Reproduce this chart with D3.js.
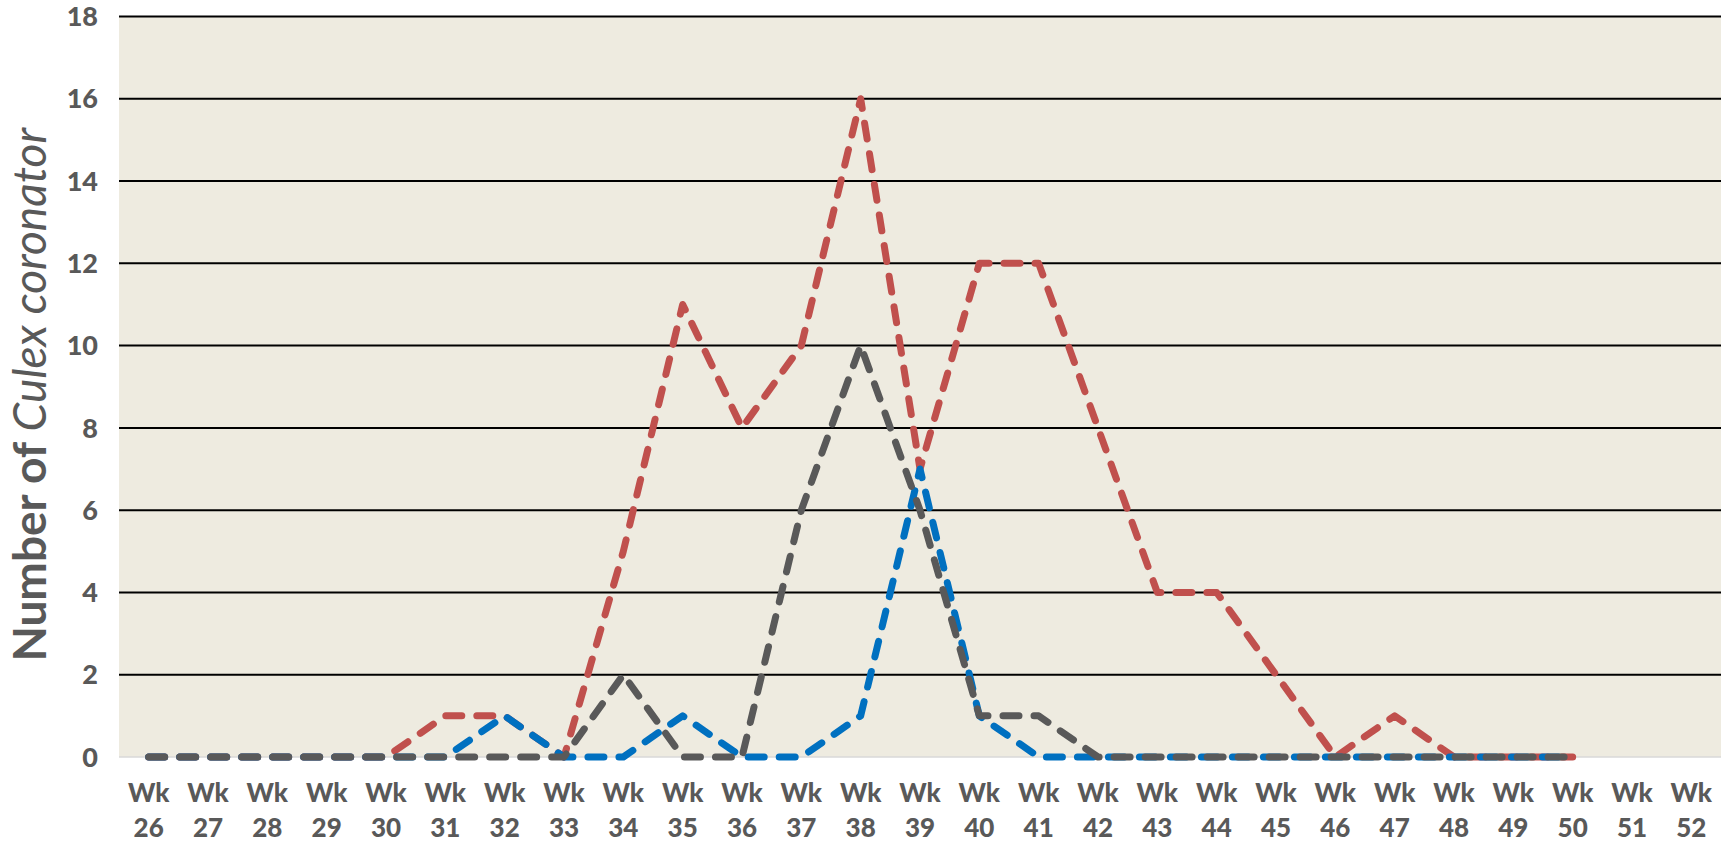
<!DOCTYPE html>
<html>
<head>
<meta charset="utf-8">
<script src="https://cdn.jsdelivr.net/npm/d3@7"></script>
<style>
  body { margin: 0; background: #fff; }
  svg { display: block; }
</style>
</head>
<body>
<div id="chart"></div>
<script>
// weeks on the x axis (Wk 51 and 52 have no counts)
const weeks = ["26","27","28","29","30","31","32","33","34","35","36","37","38","39",
               "40","41","42","43","44","45","46","47","48","49","50","51","52"];

// counts per week, one array per series
const redSeries  = [0,0,0,0,0,1,1,0,5,11,8,10,16,7,12,12,8,4,4,2,0,1,0,0,0,null,null];
const blueSeries = [0,0,0,0,0,0,1,0,0,1,0,0,1,7,1,0,0,0,0,0,0,0,0,0,0,null,null];
const graySeries = [0,0,0,0,0,0,0,0,2,0,0,6,10,6,1,1,0,0,0,0,0,0,0,0,0,null,null];

const yTicks = [0,2,4,6,8,10,12,14,16,18];

const width = 1729, height = 847;
const plot = { left: 119, right: 1721, top: 16.5, bottom: 757 };

const svg = d3.select("#chart").append("svg")
  .attr("width", width)
  .attr("height", height);

const x = d3.scalePoint()
  .domain(weeks)
  .range([plot.left, plot.right])
  .padding(0.5);

const y = d3.scaleLinear()
  .domain([0, 18])
  .range([plot.bottom, plot.top]);

// plot background
svg.append("rect")
  .attr("x", plot.left)
  .attr("y", plot.top)
  .attr("width", plot.right - plot.left)
  .attr("height", plot.bottom - plot.top)
  .attr("fill", "#eeebe0");

// gridlines
svg.append("g")
  .selectAll("line")
  .data(yTicks.filter(d => d > 0))
  .join("line")
  .attr("x1", plot.left)
  .attr("x2", plot.right)
  .attr("y1", d => y(d))
  .attr("y2", d => y(d))
  .attr("stroke", "#000")
  .attr("stroke-width", 2);

// baseline
svg.append("line")
  .attr("x1", plot.left)
  .attr("x2", plot.right)
  .attr("y1", y(0))
  .attr("y2", y(0))
  .attr("stroke", "#d9d9d9")
  .attr("stroke-width", 1.5);

// y tick labels
svg.append("g")
  .selectAll("text")
  .data(yTicks)
  .join("text")
  .attr("x", 98)
  .attr("y", d => y(d))
  .attr("dy", "0.36em")
  .attr("text-anchor", "end")
  .style("font-family", "Lato, 'Open Sans', sans-serif")
  .style("font-weight", "900")
  .style("font-size", "27px")
  .attr("fill", "#595959")
  .text(d => d);

// x tick labels, two lines each
const xl = svg.append("g")
  .selectAll("text")
  .data(weeks)
  .join("text")
  .attr("text-anchor", "middle")
  .style("font-family", "Lato, 'Open Sans', sans-serif")
  .style("font-weight", "900")
  .style("font-size", "26px")
  .attr("fill", "#595959");
xl.append("tspan").attr("x", d => x(d)).attr("y", 802).text("Wk");
xl.append("tspan").attr("x", d => x(d)).attr("y", 837).text(d => d);

// y axis title
const title = svg.append("text")
  .attr("transform", "translate(46," + ((plot.top + plot.bottom) / 2 + 8) + ") rotate(-90)")
  .attr("text-anchor", "middle")
  .style("font-family", "Lato, 'Open Sans', sans-serif")
  .style("font-size", "46px")
  .attr("fill", "#595959");
title.append("tspan").style("font-weight", "bold").text("Number of ");
title.append("tspan").style("font-style", "italic").text("Culex coronator");

// series lines
const line = d3.line()
  .defined(d => d.v !== null)
  .x(d => x(d.wk))
  .y(d => y(d.v));

const series = [
  { values: redSeries,  color: "#c0504d" },
  { values: blueSeries, color: "#0070c0" },
  { values: graySeries, color: "#595959" }
];

series.forEach(s => {
  const pts = weeks.map((wk, i) => ({ wk: wk, v: s.values[i] }));
  svg.append("path")
    .datum(pts)
    .attr("d", line)
    .attr("fill", "none")
    .attr("stroke", s.color)
    .attr("stroke-width", 7)
    .attr("stroke-dasharray", "16,15")
    .attr("stroke-linecap", "round")
    .attr("stroke-linejoin", "round");
});
</script>
</body>
</html>
